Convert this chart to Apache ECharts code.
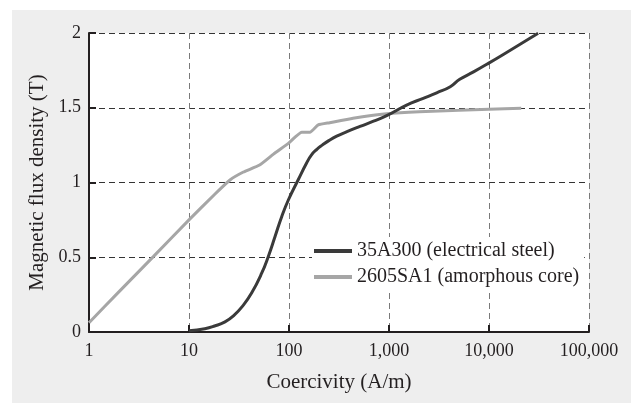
<!DOCTYPE html>
<html>
<head>
<meta charset="utf-8">
<script src="https://cdn.jsdelivr.net/npm/echarts@6/dist/echarts.min.js"></script>
<style>
html,body{margin:0;padding:0;background:#ffffff;width:631px;height:403px;overflow:hidden;}
#chart{position:absolute;left:12px;top:10px;width:619px;height:393px;}
</style>
</head>
<body>
<div id="chart"></div>
<script>
// Data
var steelName = '35A300 (electrical steel)';
var steelH = [10, 14.4, 18, 22.9, 28, 35, 42.4, 53.3, 62, 72.4, 84.5, 98.5, 124, 150, 168, 190, 215, 250, 300, 380, 513, 700, 948, 1500, 2200, 3000, 4100, 5100, 7000, 9850, 15000, 31000];
var steelB = [0.008, 0.022, 0.04, 0.068, 0.11, 0.18, 0.262, 0.393, 0.504, 0.637, 0.771, 0.883, 1.02, 1.13, 1.185, 1.222, 1.25, 1.28, 1.31, 1.34, 1.375, 1.41, 1.447, 1.518, 1.563, 1.6, 1.641, 1.69, 1.74, 1.797, 1.87, 1.998];

var amorphName = '2605SA1 (amorphous core)';
var amorphH = [1, 2, 4.4, 10, 18, 25.7, 35, 50.8, 70, 98.5, 134, 162, 196, 255, 437, 948, 2000, 5000, 10000, 21000];
var amorphB = [0.062, 0.27, 0.504, 0.75, 0.92, 1.017, 1.07, 1.117, 1.19, 1.262, 1.336, 1.336, 1.385, 1.40, 1.43, 1.46, 1.474, 1.483, 1.49, 1.496];

var xTicks = [1, 10, 100, 1000, 10000, 100000];
var yTicks = [0, 0.5, 1, 1.5, 2];

function pairs(xs, ys) { return xs.map(function (x, i) { return [x, ys[i]]; }); }

var font = 'Liberation Serif';
var textColor = '#231f20';
var chart = echarts.init(document.getElementById('chart'));
chart.setOption({
  backgroundColor: '#eeeeee',
  animation: false,
  grid: { left: 77, top: 23, right: 42, bottom: 71, show: true, backgroundColor: '#ffffff', borderWidth: 0 },
  legend: {
    left: 300, top: 227,
    orient: 'vertical',
    backgroundColor: '#ffffff',
    padding: [3, 5, 3, 2],
    itemWidth: 38, itemHeight: 4, itemGap: 4,
    icon: 'rect',
    textStyle: { fontFamily: font, fontSize: 20, color: textColor, lineHeight: 22 },
    data: [steelName, amorphName]
  },
  xAxis: {
    type: 'log', logBase: 10,
    min: xTicks[0], max: xTicks[xTicks.length - 1],
    name: 'Coercivity (A/m)', nameLocation: 'middle', nameGap: 40,
    nameTextStyle: { fontFamily: font, fontSize: 21, color: textColor },
    axisLine: { lineStyle: { color: textColor, width: 2 } },
    axisTick: { show: true, inside: true, length: 7, lineStyle: { color: textColor, width: 2 } },
    axisLabel: { fontFamily: font, fontSize: 18, color: textColor, margin: 10,
      formatter: function (v) { return Number(v).toLocaleString('en-US'); } },
    splitLine: { show: true, lineStyle: { color: '#7a7a7a', type: [6, 4], width: 1 } },
    minorTick: { show: false }
  },
  yAxis: {
    type: 'value', min: yTicks[0], max: yTicks[yTicks.length - 1], interval: 0.5,
    name: 'Magnetic flux density (T)', nameLocation: 'middle', nameGap: 36,
    nameTextStyle: { fontFamily: font, fontSize: 21, color: textColor },
    axisLine: { show: true, lineStyle: { color: textColor, width: 2 } },
    axisTick: { show: true, inside: true, length: 7, lineStyle: { color: textColor, width: 2 } },
    axisLabel: { fontFamily: font, fontSize: 18, color: textColor, margin: 8 },
    splitLine: { show: true, lineStyle: { color: '#333333', type: [6, 4], width: 1 } }
  },
  series: [
    { name: steelName, type: 'line', data: pairs(steelH, steelB), showSymbol: false, symbol: 'none',
      smooth: 0.5, lineStyle: { color: '#3a3a3a', width: 3 }, itemStyle: { color: '#3a3a3a' }, z: 3 },
    { name: amorphName, type: 'line', data: pairs(amorphH, amorphB), showSymbol: false, symbol: 'none',
      smooth: 0.15, lineStyle: { color: '#a6a6a6', width: 3 }, itemStyle: { color: '#a6a6a6' }, z: 2 }
  ]
});
</script>
</body>
</html>
